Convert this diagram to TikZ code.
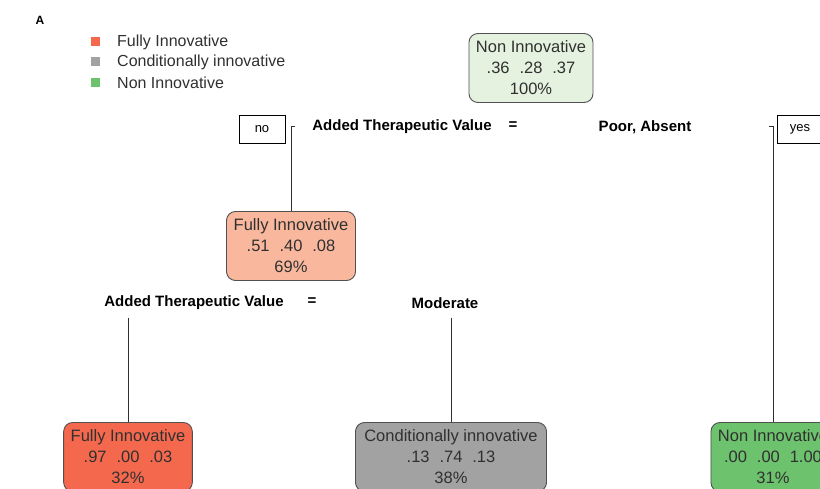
\documentclass[tikz,border=0pt]{standalone}
\usepackage{fontspec}
\setmainfont{Liberation Sans}
\usetikzlibrary{positioning}
\definecolor{treeInk}{HTML}{303030}
\definecolor{treeEdge}{HTML}{505050}
\definecolor{treeFull}{HTML}{F4694E}
\definecolor{treeFullLight}{HTML}{F9B89E}
\definecolor{treeCond}{HTML}{A2A2A2}
\definecolor{treeNon}{HTML}{6DC26D}
\definecolor{treeNonLight}{HTML}{E4F2DF}
\tikzset{
    tree/node/.style={
        rectangle, rounded corners=9pt,
        draw=treeEdge, line width=0.9pt,
        text=treeInk, align=center,
        font=\fontsize{16.5}{21}\selectfont,
        inner xsep=7pt, inner ysep=4pt, minimum height=69pt
    },
    tree/split label/.style={
        font=\fontsize{15}{17}\selectfont\bfseries, text=black, inner sep=0pt
    },
    tree/side box/.style={
        rectangle, draw=black, line width=0.9pt, fill=white,
        font=\fontsize{13}{15}\selectfont, text=black,
        minimum width=46pt, minimum height=28pt, inner sep=0pt
    },
    tree/line/.style={
        draw=treeInk, line width=0.8pt
    },
    tree/key/.style={
        rectangle, minimum size=9pt, inner sep=0pt
    },
    tree/key text/.style={
        font=\fontsize{16}{18}\selectfont, text=treeInk, anchor=west, inner sep=0pt
    }
}
\newcommand{\probs}[3]{#1\hspace{0.6em}#2\hspace{0.6em}#3}

\begin{document}
\begin{tikzpicture}[x=1pt, y=-1pt]
    \useasboundingbox (0,0) rectangle (820,489);
    \clip (0,0) rectangle (820,489);

    % panel letter and legend
    \node[font=\fontsize{12}{14}\selectfont\bfseries] (panel) at (40,20) {A};
    \node[tree/key, fill=treeFull] (keyfull) at (95,42) {};
    \node[tree/key, fill=treeCond] (keycond) at (95,62) {};
    \node[tree/key, fill=treeNon] (keynon) at (95,83) {};
    \node[tree/key text] at (117,42) {Fully Innovative};
    \node[tree/key text] at (117,62) {Conditionally innovative};
    \node[tree/key text] at (117,83) {Non Innovative};

    % tree nodes
    \node[tree/node, fill=treeNonLight, minimum width=123pt] (root) at (531,68)
        {Non Innovative\\\probs{.36}{.28}{.37}\\100\%};
    \node[tree/node, fill=treeFullLight, minimum width=129pt] (fullmid) at (291,246)
        {Fully Innovative\\\probs{.51}{.40}{.08}\\69\%};
    \node[tree/node, fill=treeFull, minimum width=123pt] (fullleaf) at (128,457)
        {Fully Innovative\\\probs{.97}{.00}{.03}\\32\%};
    \node[tree/node, fill=treeCond, minimum width=191pt] (condleaf) at (451,457)
        {Conditionally innovative\\\probs{.13}{.74}{.13}\\38\%};
    \node[tree/node, fill=treeNon, minimum width=121pt] (nonleaf) at (773,457)
        {Non Innovative\\\probs{.00}{.00}{1.00}\\31\%};

    % first split
    \node[tree/side box] (no) at (262,129) {no};
    \node[tree/side box] (yes) at (800,129) {yes};
    \node[tree/split label] (splitone) at (402,127) {Added Therapeutic Value};
    \node[tree/split label] (eqone) at (513,126) {=};
    \node[tree/split label] (valone) at (645,127) {Poor, Absent};

    % second split
    \node[tree/split label] (splittwo) at (194,303) {Added Therapeutic Value};
    \node[tree/split label] (eqtwo) at (312,302) {=};
    \node[tree/split label] (valtwo) at (445,303) {Moderate};

    \coordinate (notick) at (295,126);
    \coordinate (yestick) at (769,126);
    \coordinate (leftdrop) at (128,318);
    \coordinate (rightdrop) at (451,318);

    \draw[tree/line] (notick) -- (fullmid.north |- notick) -- (fullmid.north);
    \draw[tree/line] (yestick) -- (nonleaf.north |- yestick) -- (nonleaf.north);
    \draw[tree/line] (leftdrop) -- (fullleaf.north);
    \draw[tree/line] (rightdrop) -- (condleaf.north);
\end{tikzpicture}
\end{document}
